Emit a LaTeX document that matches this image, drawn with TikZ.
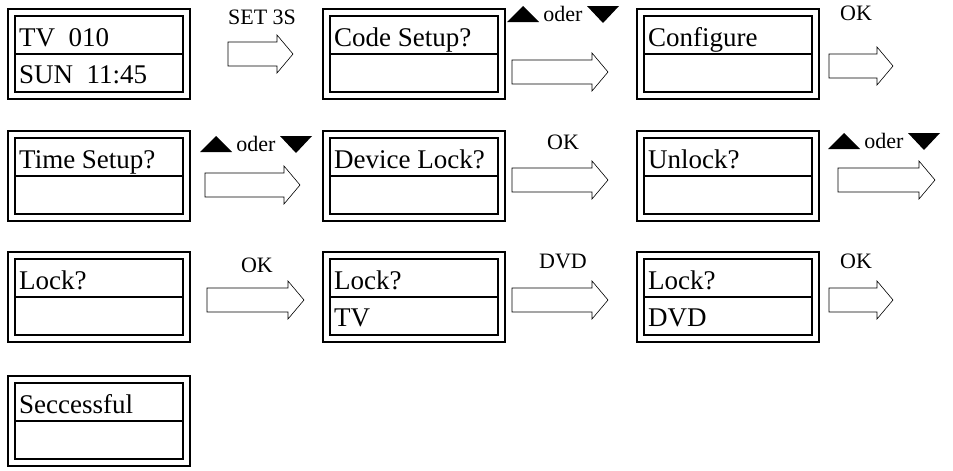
\documentclass[tikz,border=0pt]{standalone}
\usepackage{fontspec}
\setmainfont{Liberation Serif}
\tikzset{
  lcd/.style={draw, line width=1.5pt},
  lcdtext/.style={anchor=base west, inner sep=0pt, font=\fontsize{27}{27}\selectfont},
  keytext/.style={anchor=base, inner sep=0pt, font=\fontsize{22}{22}\selectfont},
  flow/.style={draw, fill=white, line width=0.6pt},
  key/.style={fill=black}
}
% display box: name, left x, top y, first line, second line
\newcommand\lcdbox[5]{%
  \draw[lcd] (#2,#3) rectangle ++(182,90);
  \draw[lcd] (#2+7,#3+7) rectangle ++(168,76);
  \draw[lcd] (#2+7,#3+45) -- ++(168,0);
  \node[lcdtext] (#1top) at (#2+11,#3+37) {#4};
  \node[lcdtext] (#1bot) at (#2+11,#3+74) {#5};
}
% open arrow: from x, to x, centre y
\newcommand\flowarrow[3]{%
  \draw[flow] (#1,#3-12) -- (#2-16,#3-12) -- (#2-16,#3-19) -- (#2,#3)
    -- (#2-16,#3+19) -- (#2-16,#3+12) -- (#1,#3+12) -- cycle;
}
% up / oder / down: left x, top y
\newcommand\updown[2]{%
  \fill[key] (#1,#2+16) -- (#1+16,#2) -- (#1+32,#2+16) -- cycle;
  \node[keytext] at (#1+56,#2+15) {oder};
  \fill[key] (#1+80,#2) -- (#1+112,#2) -- (#1+96,#2+17) -- cycle;
}
\begin{document}
\begin{tikzpicture}[x=1pt,y=-1pt]
  \useasboundingbox (0,0) rectangle (953,471);

  % row 1
  \lcdbox{tv}{8}{9}{TV\ \ 010}{SUN\ \ 11:45}
  \lcdbox{code}{323}{9}{Code Setup?}{}
  \lcdbox{conf}{637}{9}{Configure}{}
  \flowarrow{228}{293}{54}
  \node[keytext] (set) at (262,24) {SET 3S};
  \flowarrow{512}{608}{72}
  \updown{507}{6}
  \flowarrow{829}{893}{66}
  \node[keytext] (ok1) at (856,20) {OK};

  % row 2
  \lcdbox{time}{8}{131}{Time Setup?}{}
  \lcdbox{dev}{323}{131}{Device Lock?}{}
  \lcdbox{unl}{637}{131}{Unlock?}{}
  \flowarrow{205}{300}{185}
  \updown{200}{136}
  \flowarrow{512}{608}{180}
  \node[keytext] (ok2) at (563,149) {OK};
  \flowarrow{838}{935}{180}
  \updown{828}{133}

  % row 3
  \lcdbox{lock}{8}{252}{Lock?}{}
  \lcdbox{ltv}{323}{252}{Lock?}{TV}
  \lcdbox{ldvd}{637}{252}{Lock?}{DVD}
  \flowarrow{207}{304}{300}
  \node[keytext] (ok3) at (257,272) {OK};
  \flowarrow{512}{608}{300}
  \node[keytext] (dvd) at (563,268) {DVD};
  \flowarrow{829}{893}{300}
  \node[keytext] (ok4) at (856,268) {OK};

  % row 4
  \lcdbox{done}{8}{376}{Seccessful}{}
\end{tikzpicture}
\end{document}
